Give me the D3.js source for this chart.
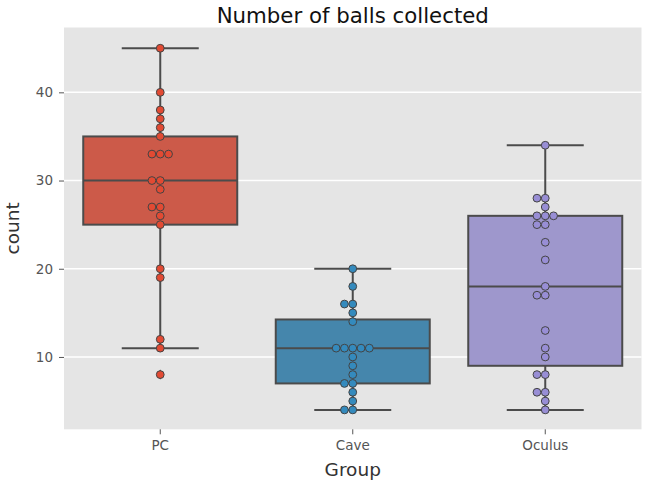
<!DOCTYPE html>
<html>
<head>
<meta charset="utf-8">
<script src="https://cdn.jsdelivr.net/npm/d3@7"></script>
<style>
  html, body { margin: 0; padding: 0; background: #ffffff; }
  svg { display: block; font-family: "DejaVu Sans", sans-serif; }
</style>
</head>
<body>
<svg id="chart" width="645" height="486"></svg>
<script>
// ---------- data ----------
const categories = ["PC", "Cave", "Oculus"];
const pcValues = [45, 40, 38, 37, 36, 35, 33, 33, 33, 30, 30, 29, 27, 27, 26, 25, 20, 19, 12, 11, 8];
const caveValues = [20, 18, 16, 16, 15, 14, 11, 11, 11, 11, 11, 10, 9, 8, 7, 7, 6, 5, 4, 4];
const oculusValues = [34, 28, 28, 27, 26, 26, 26, 25, 25, 23, 21, 18, 17, 17, 13, 11, 10, 8, 8, 6, 6, 5, 4];
const yTicks = [10, 20, 30, 40];
const titleText = "Number of balls collected";
const xLabel = "Group";
const yLabel = "count";

const seriesValues = [pcValues, caveValues, oculusValues];
const boxColors = ["#cc5a49", "#4586ac", "#9e97cc"];
const pointColors = ["#e24a33", "#348abd", "#988ed5"];

// ---------- layout ----------
const svg = d3.select("#chart");
const plot = { left: 64, right: 641.5, top: 27.5, bottom: 429.3 };
const lineColor = "#4b4b4b";

const x = d3.scaleBand().domain(categories).range([plot.left, plot.right]).padding(0);
const y = d3.scaleLinear().domain([1.8, 47.35]).range([plot.bottom, plot.top]);

// background
svg.append("rect")
  .attr("x", plot.left).attr("y", plot.top)
  .attr("width", plot.right - plot.left).attr("height", plot.bottom - plot.top)
  .attr("fill", "#e5e5e5");

// grid
svg.append("g").selectAll("line").data(yTicks).join("line")
  .attr("x1", plot.left).attr("x2", plot.right)
  .attr("y1", d => y(d)).attr("y2", d => y(d))
  .attr("stroke", "#ffffff").attr("stroke-width", 1.5);

// axes
const yAxis = d3.axisLeft(y).tickValues(yTicks).tickSize(5).tickPadding(6);
const gy = svg.append("g").attr("transform", `translate(${plot.left},0)`).call(yAxis);
gy.select(".domain").remove();
gy.selectAll(".tick line").attr("stroke", "#555555").attr("stroke-width", 1);
gy.selectAll(".tick text").attr("fill", "#555555").style("font-size", "13.5px")
  .style("font-family", "DejaVu Sans, sans-serif");

const xAxis = d3.axisBottom(x).tickSize(5).tickPadding(6);
const gx = svg.append("g").attr("transform", `translate(0,${plot.bottom})`).call(xAxis);
gx.select(".domain").remove();
gx.selectAll(".tick line").attr("stroke", "#555555").attr("stroke-width", 1);
gx.selectAll(".tick text").attr("fill", "#555555").style("font-size", "13.5px")
  .style("font-family", "DejaVu Sans, sans-serif");

// ---------- boxes ----------
const boxW = x.bandwidth() * 0.8;
const g = svg.append("g");

categories.forEach((cat, i) => {
  const vals = seriesValues[i].slice().sort(d3.ascending);
  const q1 = d3.quantileSorted(vals, 0.25);
  const med = d3.quantileSorted(vals, 0.5);
  const q3 = d3.quantileSorted(vals, 0.75);
  const iqr = q3 - q1;
  const lo = d3.min(vals.filter(v => v >= q1 - 1.5 * iqr));
  const hi = d3.max(vals.filter(v => v <= q3 + 1.5 * iqr));
  const fliers = vals.filter(v => v < lo || v > hi);
  const cx = x(cat) + x.bandwidth() / 2;

  // whiskers
  g.append("line").attr("x1", cx).attr("x2", cx).attr("y1", y(q3)).attr("y2", y(hi))
    .attr("stroke", lineColor).attr("stroke-width", 2);
  g.append("line").attr("x1", cx).attr("x2", cx).attr("y1", y(q1)).attr("y2", y(lo))
    .attr("stroke", lineColor).attr("stroke-width", 2);
  // caps
  [lo, hi].forEach(v => {
    g.append("line").attr("x1", cx - boxW / 4).attr("x2", cx + boxW / 4)
      .attr("y1", y(v)).attr("y2", y(v))
      .attr("stroke", lineColor).attr("stroke-width", 2);
  });
  // box
  g.append("rect").attr("x", cx - boxW / 2).attr("y", y(q3))
    .attr("width", boxW).attr("height", y(q1) - y(q3))
    .attr("fill", boxColors[i]).attr("stroke", lineColor).attr("stroke-width", 2);
  // median
  g.append("line").attr("x1", cx - boxW / 2).attr("x2", cx + boxW / 2)
    .attr("y1", y(med)).attr("y2", y(med))
    .attr("stroke", lineColor).attr("stroke-width", 2);
  // fliers (diamonds)
  fliers.forEach(v => {
    const yy = y(v);
    g.append("path")
      .attr("d", `M${cx},${yy - 5} L${cx + 3.5},${yy} L${cx},${yy + 5} L${cx - 3.5},${yy} Z`)
      .attr("fill", lineColor);
  });

  // swarm points
  const r = 3.9;
  const step = 8.3;
  const placed = [];
  seriesValues[i].slice().sort(d3.descending).forEach(v => {
    const py = y(v);
    let k = 0, px;
    const cands = [0];
    for (let j = 1; j < 20; j++) { cands.push(-j * step, j * step); }
    for (const off of cands) {
      const ok = placed.every(p => Math.hypot(p[0] - (cx + off), p[1] - py) >= 2 * r);
      if (ok) { px = cx + off; break; }
    }
    placed.push([px, py]);
  });
  g.append("g").selectAll("circle").data(placed).join("circle")
    .attr("cx", d => d[0]).attr("cy", d => d[1]).attr("r", r)
    .attr("fill", pointColors[i]).attr("stroke", "#444444").attr("stroke-width", 1);
});

// ---------- text ----------
svg.append("text").attr("x", (plot.left + plot.right) / 2).attr("y", 23)
  .attr("text-anchor", "middle").style("font-size", "21.3px").attr("fill", "#111111")
  .text(titleText);

svg.append("text").attr("x", (plot.left + plot.right) / 2).attr("y", 476)
  .attr("text-anchor", "middle").style("font-size", "18.5px").attr("fill", "#333333")
  .text(xLabel);

svg.append("text")
  .attr("transform", `translate(18.5,${(plot.top + plot.bottom) / 2}) rotate(-90)`)
  .attr("text-anchor", "middle").style("font-size", "18.5px").attr("fill", "#333333")
  .text(yLabel);
</script>
</body>
</html>
